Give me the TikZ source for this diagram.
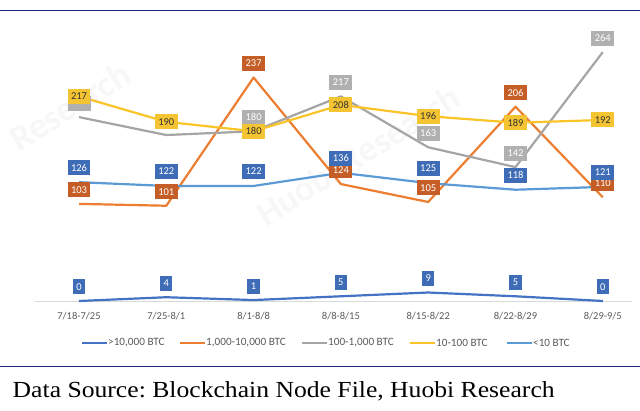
\documentclass[tikz,border=0pt]{standalone}
\usepackage{fontspec}
\setmainfont{Liberation Serif}
\newfontfamily\chartfont{Carlito}
\usetikzlibrary{positioning}
\usetikzlibrary{calc}

\definecolor{navyrule}{RGB}{28,38,118}
\definecolor{cblue}{RGB}{68,114,196}
\definecolor{corange}{RGB}{237,125,49}
\definecolor{cgray}{RGB}{165,165,165}
\definecolor{cgold}{RGB}{250,196,40}
\definecolor{clight}{RGB}{91,155,213}
\definecolor{bblue}{RGB}{62,108,182}
\definecolor{borange}{RGB}{196,94,38}
\definecolor{bgray}{RGB}{176,176,176}
\definecolor{bgold}{RGB}{244,196,50}
\definecolor{axtext}{RGB}{89,89,89}

\tikzset{
  series/.style={line width=2.2pt, line join=round},
  vallabel/.style={font=\chartfont\fontsize{10.5}{12}\selectfont, inner xsep=3.5pt,
    inner ysep=2pt, minimum height=15pt, text=white},
  catlabel/.style={font=\chartfont\fontsize{10.5}{12}\selectfont, text=axtext},
  keylabel/.style={font=\chartfont\fontsize{11.2}{12}\selectfont, text=axtext,
    anchor=west, inner sep=1pt},
  wmark/.style={font=\chartfont\bfseries\fontsize{36}{36}\selectfont, text=black!3,
    rotate=32}
}

\begin{document}
\frenchspacing
\begin{tikzpicture}[x=1pt, y=-1pt]
  \useasboundingbox (0,0) rectangle (640,411);

  \node[wmark] (wm1) at (70,106) {Research};
  \node[wmark] (wm2) at (358,155) {Huobi Research};

  \coordinate (ruletl) at (0,10.5);
  \coordinate (ruletr) at (640,10.5);
  \coordinate (rulebl) at (0,366.7);
  \coordinate (rulebr) at (640,366.7);
  \draw[navyrule, line width=1.4pt] (ruletl) -- (ruletr);
  \draw[navyrule, line width=1.2pt] (rulebl) -- (rulebr);

  \coordinate (axl) at (35,301);
  \coordinate (axr) at (632,301);
  \draw[black!15, line width=0.8pt] (axl) -- (axr);

  \foreach \t [count=\i from 0] in {{7/18-7/25},{7/25-8/1},{8/1-8/8},{8/8-8/15},
      {8/15-8/22},{8/22-8/29},{8/29-9/5}}
    \node[catlabel] (cat\i) at ({79+87.3*\i},316) {\t};

  \foreach \v [count=\i from 0] in {0,4,1,5,9,5,0}
    \coordinate (a\i) at ({79+87.3*\i},{301-0.943*\v});
  \foreach \v [count=\i from 0] in {103,101,237,124,105,206,110}
    \coordinate (b\i) at ({79+87.3*\i},{301-0.943*\v});
  \foreach \v [count=\i from 0] in {195,176,180,217,163,142,264}
    \coordinate (c\i) at ({79+87.3*\i},{301-0.943*\v});
  \foreach \v [count=\i from 0] in {217,190,180,208,196,189,192}
    \coordinate (d\i) at ({79+87.3*\i},{301-0.943*\v});
  \foreach \v [count=\i from 0] in {126,122,122,136,125,118,121}
    \coordinate (e\i) at ({79+87.3*\i},{301-0.943*\v});

  \draw[series, cblue] (a0) \foreach \i in {1,...,6}{ -- (a\i)};
  \draw[series, corange] (b0) \foreach \i in {1,...,6}{ -- (b\i)};
  \draw[series, cgray] (c0) \foreach \i in {1,...,6}{ -- (c\i)};
  \draw[series, cgold] (d0) \foreach \i in {1,...,6}{ -- (d\i)};
  \draw[series, clight] (e0) \foreach \i in {1,...,6}{ -- (e\i)};

  \foreach \v [count=\i from 0] in {0,4,1,5,9,5,0}
    \node[vallabel, fill=bblue] (al\i) at ($(a\i)+(0,-14)$) {\v};
  \foreach \v [count=\i from 0] in {103,101,237,124,105,206,110}
    \node[vallabel, fill=borange] (bl\i) at ($(b\i)+(0,-14)$) {\v};
  \node[vallabel, fill=bgray, minimum width=23pt] (cl0) at ($(c0)+(0,-14)$) {};
  \foreach \v [count=\i from 2] in {180,217,163,142,264}
    \node[vallabel, fill=bgray] (cl\i) at ($(c\i)+(0,-14)$) {\v};
  \foreach \v [count=\i from 0] in {217,190,180,208,196,189,192}
    \node[vallabel, fill=bgold, text=black!80] (dl\i) at (d\i) {\v};
  \foreach \v [count=\i from 0] in {126,122,122,136,125,118,121}
    \node[vallabel, fill=bblue] (el\i) at ($(e\i)+(0,-14.5)$) {\v};

  \foreach \x/\col/\t [count=\i] in {82/cblue/{>10,000 BTC},180/corange/{1,000-10,000 BTC},
      302/cgray/{100-1,000 BTC},410/cgold/{10-100 BTC},507/clight/{<10 BTC}}
  {
    \coordinate (ks\i) at (\x,342.7);
    \coordinate (ke\i) at (\x+25,342.7);
    \draw[series, \col] (ks\i) -- (ke\i);
    \node[keylabel, right=0pt of ke\i] (kt\i) {\t};
  }

  \node[anchor=base west, font=\fontsize{23}{23}\selectfont, inner sep=0pt,
    xscale=1.115, transform shape] (src)
    at (12.5,397.7) {Data Source: Blockchain Node File, Huobi Research};
\end{tikzpicture}
\end{document}
